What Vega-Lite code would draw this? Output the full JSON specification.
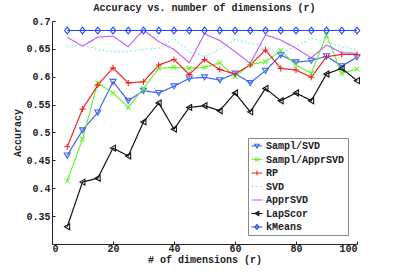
{
  "$schema": "https://vega.github.io/schema/vega-lite/v6.json",
  "width": 305,
  "height": 223,
  "autosize": {"type": "none"},
  "padding": {"left": 52, "top": 21, "right": 38, "bottom": 31},
  "background": "white",
  "title": {"text": "Accuracy vs. number of dimensions (r)", "font": "Liberation Mono", "fontSize": 10, "fontWeight": "bold", "color": "#222", "offset": 3, "anchor": "middle"},
  "config": {
    "view": {"stroke": null},
    "axis": {"labelFont": "Liberation Mono", "labelFontSize": 10, "labelFontWeight": "bold", "labelColor": "#222", "titleFont": "Liberation Mono", "titleFontSize": 10, "titleFontWeight": "bold", "titleColor": "#222", "grid": false, "domainColor": "#222", "tickColor": "#222", "tickSize": -3, "domainWidth": 1},
    "legend": {"labelFont": "Liberation Mono", "labelFontSize": 10, "labelFontWeight": "bold", "labelColor": "#222", "orient": "none", "legendX": 196, "legendY": 117, "strokeColor": "#888", "fillColor": "white", "padding": 3, "rowPadding": 3.5, "symbolSize": 34, "symbolStrokeWidth": 1.2, "symbolOffset": 1, "labelOffset": 4,
        "symbolFillColor": "transparent"}
  },
  "datasets": {
    "acc": [
      {"x":5,"y":0.459,"s":"Sampl/SVD"},{"x":10,"y":0.504,"s":"Sampl/SVD"},{"x":15,"y":0.536,"s":"Sampl/SVD"},{"x":20,"y":0.591,"s":"Sampl/SVD"},{"x":25,"y":0.557,"s":"Sampl/SVD"},{"x":30,"y":0.575,"s":"Sampl/SVD"},{"x":35,"y":0.571,"s":"Sampl/SVD"},{"x":40,"y":0.583,"s":"Sampl/SVD"},{"x":45,"y":0.597,"s":"Sampl/SVD"},{"x":50,"y":0.599,"s":"Sampl/SVD"},{"x":55,"y":0.594,"s":"Sampl/SVD"},{"x":60,"y":0.606,"s":"Sampl/SVD"},{"x":65,"y":0.589,"s":"Sampl/SVD"},{"x":70,"y":0.611,"s":"Sampl/SVD"},{"x":75,"y":0.639,"s":"Sampl/SVD"},{"x":80,"y":0.626,"s":"Sampl/SVD"},{"x":85,"y":0.629,"s":"Sampl/SVD"},{"x":90,"y":0.637,"s":"Sampl/SVD"},{"x":95,"y":0.619,"s":"Sampl/SVD"},{"x":100,"y":0.635,"s":"Sampl/SVD"},
      {"x":5,"y":0.4135,"s":"Sampl/ApprSVD"},{"x":10,"y":0.488,"s":"Sampl/ApprSVD"},{"x":15,"y":0.589,"s":"Sampl/ApprSVD"},{"x":20,"y":0.571,"s":"Sampl/ApprSVD"},{"x":25,"y":0.545,"s":"Sampl/ApprSVD"},{"x":30,"y":0.579,"s":"Sampl/ApprSVD"},{"x":35,"y":0.615,"s":"Sampl/ApprSVD"},{"x":40,"y":0.617,"s":"Sampl/ApprSVD"},{"x":45,"y":0.615,"s":"Sampl/ApprSVD"},{"x":50,"y":0.617,"s":"Sampl/ApprSVD"},{"x":55,"y":0.625,"s":"Sampl/ApprSVD"},{"x":60,"y":0.600,"s":"Sampl/ApprSVD"},{"x":65,"y":0.622,"s":"Sampl/ApprSVD"},{"x":70,"y":0.627,"s":"Sampl/ApprSVD"},{"x":75,"y":0.647,"s":"Sampl/ApprSVD"},{"x":80,"y":0.621,"s":"Sampl/ApprSVD"},{"x":85,"y":0.606,"s":"Sampl/ApprSVD"},{"x":90,"y":0.675,"s":"Sampl/ApprSVD"},{"x":95,"y":0.606,"s":"Sampl/ApprSVD"},{"x":100,"y":0.614,"s":"Sampl/ApprSVD"},
      {"x":5,"y":0.4745,"s":"RP"},{"x":10,"y":0.542,"s":"RP"},{"x":15,"y":0.585,"s":"RP"},{"x":20,"y":0.616,"s":"RP"},{"x":25,"y":0.589,"s":"RP"},{"x":30,"y":0.591,"s":"RP"},{"x":35,"y":0.621,"s":"RP"},{"x":40,"y":0.631,"s":"RP"},{"x":45,"y":0.604,"s":"RP"},{"x":50,"y":0.631,"s":"RP"},{"x":55,"y":0.613,"s":"RP"},{"x":60,"y":0.605,"s":"RP"},{"x":65,"y":0.621,"s":"RP"},{"x":70,"y":0.648,"s":"RP"},{"x":75,"y":0.615,"s":"RP"},{"x":80,"y":0.612,"s":"RP"},{"x":85,"y":0.599,"s":"RP"},{"x":90,"y":0.636,"s":"RP"},{"x":95,"y":0.640,"s":"RP"},{"x":100,"y":0.640,"s":"RP"},
      {"x":5,"y":0.654,"s":"SVD"},{"x":10,"y":0.657,"s":"SVD"},{"x":15,"y":0.649,"s":"SVD"},{"x":20,"y":0.645,"s":"SVD"},{"x":25,"y":0.645,"s":"SVD"},{"x":30,"y":0.649,"s":"SVD"},{"x":35,"y":0.651,"s":"SVD"},{"x":40,"y":0.669,"s":"SVD"},{"x":45,"y":0.645,"s":"SVD"},{"x":50,"y":0.637,"s":"SVD"},{"x":55,"y":0.649,"s":"SVD"},{"x":60,"y":0.667,"s":"SVD"},{"x":65,"y":0.660,"s":"SVD"},{"x":70,"y":0.654,"s":"SVD"},{"x":75,"y":0.642,"s":"SVD"},{"x":80,"y":0.654,"s":"SVD"},{"x":85,"y":0.669,"s":"SVD"},{"x":90,"y":0.663,"s":"SVD"},{"x":95,"y":0.654,"s":"SVD"},{"x":100,"y":0.648,"s":"SVD"},
      {"x":5,"y":0.671,"s":"ApprSVD"},{"x":10,"y":0.655,"s":"ApprSVD"},{"x":15,"y":0.671,"s":"ApprSVD"},{"x":20,"y":0.673,"s":"ApprSVD"},{"x":25,"y":0.654,"s":"ApprSVD"},{"x":30,"y":0.684,"s":"ApprSVD"},{"x":35,"y":0.663,"s":"ApprSVD"},{"x":40,"y":0.649,"s":"ApprSVD"},{"x":45,"y":0.625,"s":"ApprSVD"},{"x":50,"y":0.677,"s":"ApprSVD"},{"x":55,"y":0.665,"s":"ApprSVD"},{"x":60,"y":0.645,"s":"ApprSVD"},{"x":65,"y":0.624,"s":"ApprSVD"},{"x":70,"y":0.675,"s":"ApprSVD"},{"x":75,"y":0.666,"s":"ApprSVD"},{"x":80,"y":0.651,"s":"ApprSVD"},{"x":85,"y":0.634,"s":"ApprSVD"},{"x":90,"y":0.657,"s":"ApprSVD"},{"x":95,"y":0.643,"s":"ApprSVD"},{"x":100,"y":0.642,"s":"ApprSVD"},
      {"x":5,"y":0.331,"s":"LapScor"},{"x":10,"y":0.411,"s":"LapScor"},{"x":15,"y":0.418,"s":"LapScor"},{"x":20,"y":0.472,"s":"LapScor"},{"x":25,"y":0.458,"s":"LapScor"},{"x":30,"y":0.519,"s":"LapScor"},{"x":35,"y":0.553,"s":"LapScor"},{"x":40,"y":0.506,"s":"LapScor"},{"x":45,"y":0.545,"s":"LapScor"},{"x":50,"y":0.548,"s":"LapScor"},{"x":55,"y":0.539,"s":"LapScor"},{"x":60,"y":0.571,"s":"LapScor"},{"x":65,"y":0.537,"s":"LapScor"},{"x":70,"y":0.579,"s":"LapScor"},{"x":75,"y":0.557,"s":"LapScor"},{"x":80,"y":0.571,"s":"LapScor"},{"x":85,"y":0.557,"s":"LapScor"},{"x":90,"y":0.605,"s":"LapScor"},{"x":95,"y":0.615,"s":"LapScor"},{"x":100,"y":0.593,"s":"LapScor"},
      {"x":5,"y":0.683,"s":"kMeans"},{"x":10,"y":0.683,"s":"kMeans"},{"x":15,"y":0.683,"s":"kMeans"},{"x":20,"y":0.683,"s":"kMeans"},{"x":25,"y":0.683,"s":"kMeans"},{"x":30,"y":0.683,"s":"kMeans"},{"x":35,"y":0.683,"s":"kMeans"},{"x":40,"y":0.683,"s":"kMeans"},{"x":45,"y":0.683,"s":"kMeans"},{"x":50,"y":0.683,"s":"kMeans"},{"x":55,"y":0.683,"s":"kMeans"},{"x":60,"y":0.683,"s":"kMeans"},{"x":65,"y":0.683,"s":"kMeans"},{"x":70,"y":0.683,"s":"kMeans"},{"x":75,"y":0.683,"s":"kMeans"},{"x":80,"y":0.683,"s":"kMeans"},{"x":85,"y":0.683,"s":"kMeans"},{"x":90,"y":0.683,"s":"kMeans"},{"x":95,"y":0.683,"s":"kMeans"},{"x":100,"y":0.683,"s":"kMeans"}
    ]
  },
  "data": {"name": "acc"},
  "encoding": {
    "x": {"field": "x", "type": "quantitative", "title": "# of dimensions (r)", "scale": {"domain": [0, 100], "nice": false}, "axis": {"values": [0, 20, 40, 60, 80, 100], "labelPadding": 2, "titlePadding": 1}},
    "y": {"field": "y", "type": "quantitative", "title": "Accuracy", "scale": {"domain": [0.3, 0.7], "nice": false, "zero": false}, "axis": {"values": [0.35, 0.4, 0.45, 0.5, 0.55, 0.6, 0.65, 0.7], "format": "~g", "labelPadding": 5, "titlePadding": 3}},
    "color": {"field": "s", "type": "nominal", "title": null,
      "scale": {"domain": ["Sampl/SVD", "Sampl/ApprSVD", "RP", "SVD", "ApprSVD", "LapScor", "kMeans"], "range": ["#3f66f2", "#6cf23a", "#f52222", "#86f0e2", "#c466f0", "#111111", "#2246ff"]}
    }
  },
  "layer": [
    {
      "mark": {"type": "line", "strokeWidth": 1.2},
      "encoding": {
        "strokeDash": {"field": "s", "type": "nominal", "title": null,
          "scale": {"domain": ["Sampl/SVD", "Sampl/ApprSVD", "RP", "SVD", "ApprSVD", "LapScor", "kMeans"], "range": [[1, 0], [1, 0], [1, 0], [2, 2], [1, 0], [1, 0], [1, 0]]}}
      }
    },
    {
      "transform": [{"filter": "datum.s == 'Sampl/SVD'"}],
      "mark": {"type": "point", "filled": false, "strokeWidth": 1.1, "size": 36, "opacity": 1, "shape": "M-1,-0.8L1,-0.8L0,0.9Z"}
    },
    {
      "transform": [{"filter": "datum.s == 'Sampl/ApprSVD'"}],
      "mark": {"type": "point", "filled": false, "strokeWidth": 1.1, "size": 36, "opacity": 1, "shape": "M-0.8,-0.8L0.8,0.8M-0.8,0.8L0.8,-0.8"}
    },
    {
      "transform": [{"filter": "datum.s == 'RP'"}],
      "mark": {"type": "point", "filled": false, "strokeWidth": 1.1, "size": 36, "opacity": 1, "shape": "M-1,0L1,0M0,-1L0,1"}
    },
    {
      "transform": [{"filter": "datum.s == 'LapScor'"}],
      "mark": {"type": "point", "filled": false, "strokeWidth": 1.1, "size": 36, "opacity": 1, "shape": "M-0.9,0L0.8,-1L0.8,1Z"}
    },
    {
      "transform": [{"filter": "datum.s == 'kMeans'"}],
      "mark": {"type": "point", "filled": false, "strokeWidth": 1.1, "size": 36, "opacity": 1, "shape": "M-0.9,0L0,-1.1L0.9,0L0,1.1Z"}
    },
    {
      "transform": [{"filter": "datum.x < 0"}],
      "mark": {"type": "point", "filled": false, "strokeWidth": 1.1},
      "encoding": {
        "shape": {"field": "s", "type": "nominal", "title": null,
          "scale": {"domain": ["Sampl/SVD", "Sampl/ApprSVD", "RP", "SVD", "ApprSVD", "LapScor", "kMeans"], "range": ["M-1.9,0L1.9,0M-0.8,-0.6L0.8,-0.6L0,0.7Z", "M-1.9,0L1.9,0M-0.6,-0.6L0.6,0.6M-0.6,0.6L0.6,-0.6", "M-1.9,0L1.9,0M0,-0.8L0,0.8", "M-1.9,0L1.9,0", "M-1.9,0L1.9,0", "M-1.9,0L1.9,0M-0.7,0L0.6,-0.7L0.6,0.7Z", "M-1.9,0L1.9,0M-0.7,0L0,-0.8L0.7,0L0,0.8Z"]}}
      }
    }
  ]
}
